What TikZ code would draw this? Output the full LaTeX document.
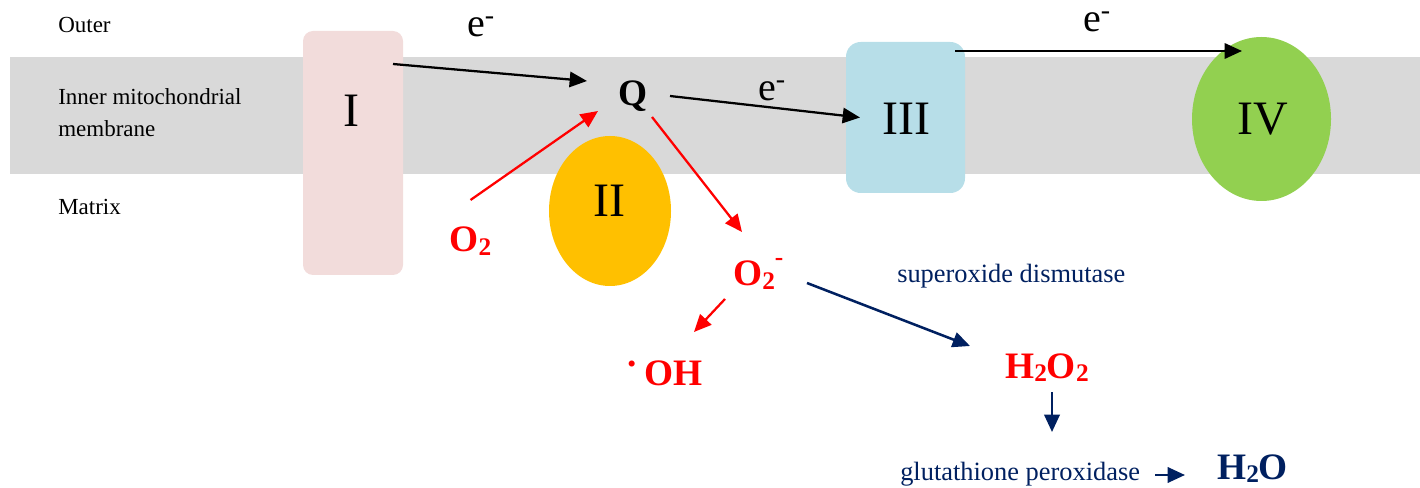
\documentclass[tikz,border=0pt]{standalone}
\usepackage{fontspec}
\setmainfont{Liberation Serif}
\usetikzlibrary{arrows.meta,shapes.geometric}
\definecolor{bandgray}{HTML}{D9D9D9}
\definecolor{cpink}{HTML}{F2DCDB}
\definecolor{cgold}{HTML}{FFC000}
\definecolor{cblue}{HTML}{B7DEE8}
\definecolor{cgreen}{HTML}{92D050}
\definecolor{cred}{HTML}{FF0000}
\definecolor{cnavy}{HTML}{002060}
\newcommand\chemsub[1]{\raisebox{-0.1em}{\fontsize{19pt}{19pt}\selectfont #1}}
\tikzset{
  region/.style={inner sep=0pt, font=\fontsize{17.25pt}{24pt}\selectfont, text=black},
  roman/.style={inner sep=0pt, font=\fontsize{36pt}{36pt}\selectfont, text=black},
  elec/.style={inner sep=0pt, font=\fontsize{30pt}{30pt}\selectfont, text=black},
  chem/.style={inner sep=0pt, font=\bfseries\fontsize{28pt}{28pt}\selectfont},
  enzyme/.style={inner sep=0pt, font=\fontsize{19.8pt}{24pt}\selectfont, text=cnavy},
  boxcx/.style={draw=none, inner sep=0pt, rounded corners=#1, rectangle},
  ovalcx/.style={draw=none, inner sep=0pt, ellipse},
  tip/.style={-{Triangle[length=13pt,width=11.5pt]}},
  earrow/.style={tip, line width=1.7pt, draw=black},
  rarrow/.style={tip, line width=1.7pt, draw=cred},
  narrow/.style={tip, line width=1.9pt, draw=cnavy},
}
\begin{document}
\begin{tikzpicture}[x=0.75pt,y=-0.75pt]
\useasboundingbox (0,0) rectangle (1420,488);
% membrane band
\fill[bandgray] (10,57) rectangle (1420,174);
% complexes
\node[boxcx=7.5pt, fill=cpink, minimum width=75pt, minimum height=183pt] (c1) at (353,153) {};
\node[ovalcx, fill=cgold, minimum width=91.5pt, minimum height=112.5pt] (c2) at (610,211) {};
\node[boxcx=11pt, fill=cblue, minimum width=89.25pt, minimum height=113.25pt] (c3) at (905.5,117.5) {};
\node[ovalcx, fill=cgreen, minimum width=104.25pt, minimum height=123pt] (c4) at (1261.5,119) {};
% region labels
\node[region, anchor=base west] (outer) at (58,33) {Outer};
\node[region, anchor=west, align=left] (inner) at (58,113) {Inner mitochondrial\\membrane};
\node[region, anchor=base west] (matrix) at (58,215) {Matrix};
% roman numerals
\node[roman, anchor=base] (t1) at (351,127) {I};
\node[roman, anchor=base] (t2) at (609,217) {II};
\node[roman, anchor=base] (t3) at (906,135) {III};
\node[roman, anchor=base] (t4) at (1263,135) {IV};
% electrons
\node[elec, anchor=base] (e1) at (481,37) {e\textsuperscript{-}};
\node[elec, anchor=base] (e2) at (772,101) {e\textsuperscript{-}};
\node[elec, anchor=base] (e3) at (1097,32) {e\textsuperscript{-}};
% chemical species
\node[chem, text=black, anchor=base] (q) at (633,106) {Q};
\node[chem, text=cred, anchor=base] (o2) at (470.5,252) {O\chemsub{2}};
\node[chem, text=cred, anchor=base west] (sup) at (733,286) {O\chemsub{2}\raisebox{0.55em}{\fontsize{19pt}{19pt}\selectfont -}};
\node[chem, text=cred, anchor=base west] (oh) at (627,385) {\raisebox{0.5em}{.}\hspace{0.22em}OH};
\node[chem, text=cred, anchor=base west] (h2o2) at (1005,378) {H\chemsub{2}O\chemsub{2}};
\node[chem, text=cnavy, anchor=base west] (h2o) at (1217,479) {H\chemsub{2}O};
% enzymes
\node[enzyme, anchor=base west] (sod) at (897,282) {superoxide dismutase};
\node[enzyme, anchor=base west] (gpx) at (900,480) {glutathione peroxidase};
% electron transport
\draw[earrow] ([shift={(40,-89)}]c1.center) -- ([shift={(-46,-25)}]q.base);
\draw[earrow] ([shift={(37,-10)}]q.base) -- ([shift={(-45.5,0)}]c3.center);
\draw[earrow] ([shift={(49.5,-66.5)}]c3.center) -- ([shift={(-19.5,-68)}]c4.center);
% ROS
\draw[rarrow] ([shift={(0,-52)}]o2.base) -- ([shift={(-35,5)}]q.base);
\draw[rarrow] ([shift={(19,11)}]q.base) -- ([shift={(9,-54)}]sup.base west);
\draw[rarrow] ([shift={(-8,13)}]sup.base west) -- ([shift={(67,-53)}]oh.base west);
% detox
\draw[narrow] ([shift={(74,-3)}]sup.base west) -- ([shift={(-35,-32)}]h2o2.base west);
\draw[narrow] ([shift={(47,14)}]h2o2.base west) -- ([shift={(152,-48)}]gpx.base west);
\draw[narrow] ([shift={(255,-5)}]gpx.base west) -- ([shift={(-32,-4)}]h2o.base west);
\end{tikzpicture}
\end{document}
